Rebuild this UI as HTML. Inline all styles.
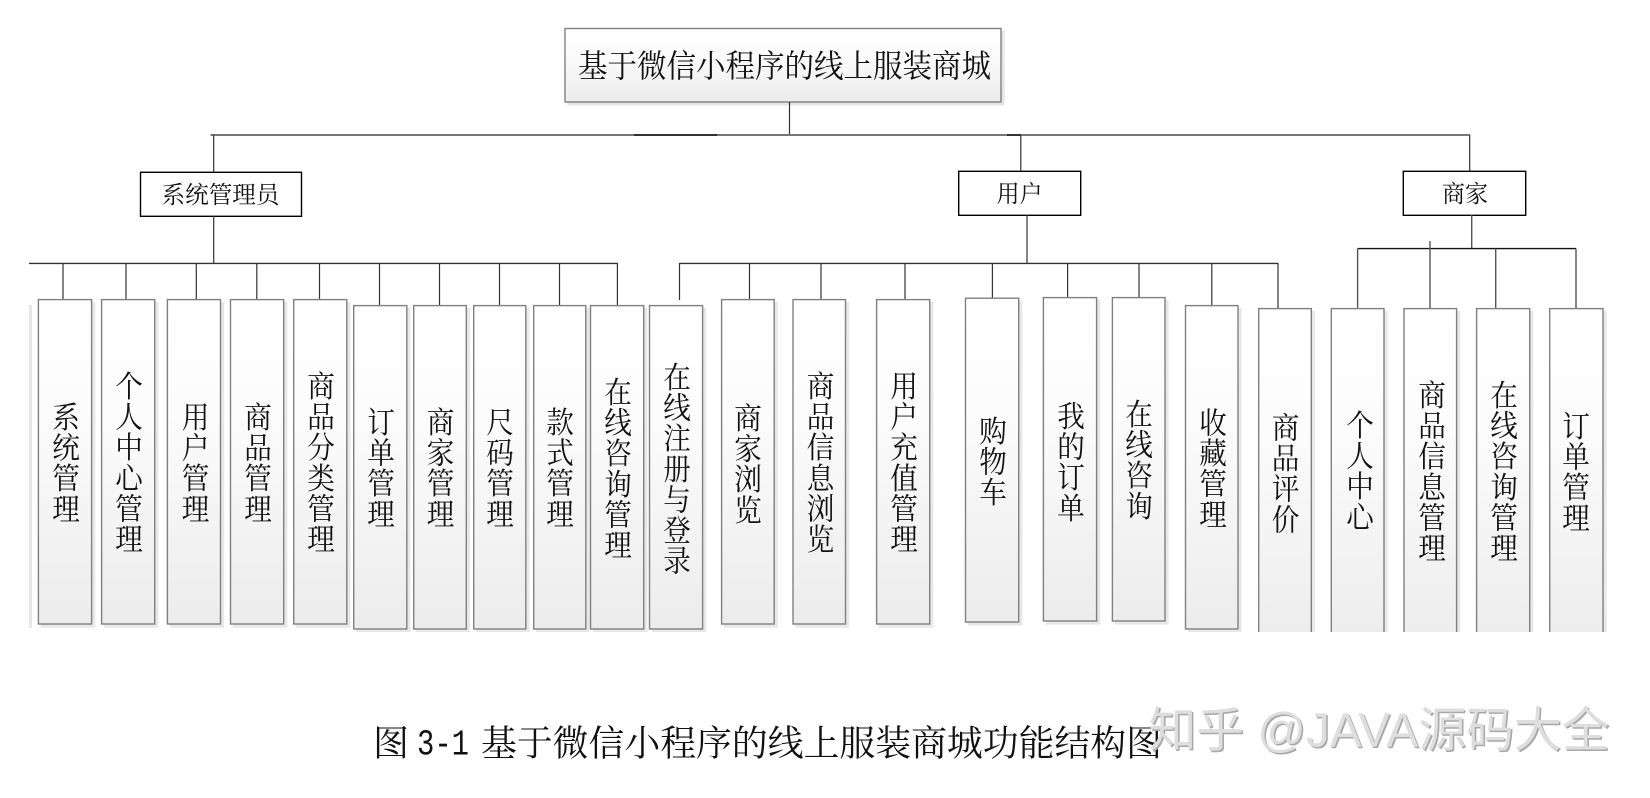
<!DOCTYPE html>
<html lang="zh"><head><meta charset="utf-8"><title>功能结构图</title>
<style>
html,body{margin:0;padding:0;background:#fff}
svg{display:block}
.b{fill:url(#g);stroke:#808080;stroke-width:1.4}
.n{fill:#fff;stroke:#000;stroke-width:1.4}
.l{stroke:#333;stroke-width:1.2;fill:none}
.h{stroke:#555;stroke-width:1.4;fill:none}
text{font-family:"Liberation Serif","Noto Serif CJK SC",serif;fill:#111}
.v{font-size:30px;text-anchor:middle}
</style></head><body>
<svg width="1650" height="798" viewBox="0 0 1650 798" xmlns="http://www.w3.org/2000/svg">
<defs>
<linearGradient id="g" x1="0" y1="0" x2="0" y2="1"><stop offset="0" stop-color="#fff"/><stop offset=".35" stop-color="#fcfcfc"/><stop offset="1" stop-color="#ececec"/></linearGradient>
<clipPath id="c"><rect x="0" y="0" width="1650" height="632"/></clipPath>
</defs>

<!-- root -->
<rect x="565" y="28.5" width="436" height="73.5" class="b" style="filter:drop-shadow(3px 3px 0 #e6e6e6)"/>
<text x="578" y="77" font-size="32" textLength="413" lengthAdjust="spacingAndGlyphs">基于微信小程序的线上服装商城</text>

<!-- top connectors -->
<path class="l" d="M789.5 102V135"/>
<path d="M210.5 135H1470" stroke="#777" stroke-width="2" fill="none"/>
<path d="M634 135H717M1007 135H1021" stroke="#333" stroke-width="2" fill="none"/>
<path class="l" d="M213.7 135V172M1020.8 135V171M1469.7 135V171"/>

<!-- role nodes -->
<rect class="n" x="140.5" y="172.3" width="161" height="44"/>
<rect class="n" x="958.7" y="171.3" width="122" height="44"/>
<rect class="n" x="1403.3" y="171.3" width="122.4" height="44"/>
<text x="161.5" y="203" font-size="24" textLength="118" lengthAdjust="spacingAndGlyphs">系统管理员</text>
<text x="996.5" y="202" font-size="24" textLength="46" lengthAdjust="spacingAndGlyphs">用户</text>
<text x="1442" y="202" font-size="24" textLength="46" lengthAdjust="spacingAndGlyphs">商家</text>

<!-- second level connectors -->
<path class="l" d="M213.7 216V263M1027 215V263"/>
<path class="h" d="M1471.7 215V248"/>
<path d="M29 263.4H617.4M679.5 263.4H1278" stroke="#333" stroke-width="1.4" fill="none"/>
<path class="l" d="M63 263V299.5M126 263V299.5M196.3 263V299.5M256.8 263V299.5M319.5 263V299.5M379.5 263V305.5M439.5 263V305.5M499.5 263V305.5M559.5 263V305.5M617.4 263V305.5M679.5 263V300M749.5 263V299.5M821 263V299.5M905 263V299.5M992.4 263V298M1067.6 263V297.5M1139 263V297.5M1211.8 263V305.5M1278 263V308.5"/>
<path d="M1357.6 248.6H1576" stroke="#111" stroke-width="1.4" fill="none"/>
<path class="h" d="M1357.6 248.6V308.5M1430 241V308.5M1495.7 248.6V308.5M1576 248.6V308.5"/>

<!-- leaf boxes -->
<rect x="29" y="305" width="3" height="323" fill="#e6e6e6"/>
<g clip-path="url(#c)"><g style="filter:drop-shadow(3px 3px 0 #e8e8e8)">
<rect class="b" x="38.4" y="299.6" width="53.2" height="324.4"/>
<rect class="b" x="101.6" y="299.6" width="53.1" height="324.4"/>
<rect class="b" x="167.4" y="299.6" width="53.1" height="324.4"/>
<rect class="b" x="230.5" y="299.6" width="53.2" height="324.4"/>
<rect class="b" x="293.7" y="299.6" width="53.1" height="324.4"/>
<rect class="b" x="353.7" y="305.6" width="53.1" height="323.4"/>
<rect class="b" x="413.7" y="305.6" width="52.6" height="323.4"/>
<rect class="b" x="473.7" y="305.6" width="52.1" height="323.4"/>
<rect class="b" x="533.7" y="305.6" width="52.1" height="323.4"/>
<rect class="b" x="590.5" y="305.6" width="53.2" height="323.4"/>
<rect class="b" x="649.5" y="305.6" width="53.1" height="323.4"/>
<rect class="b" x="721.6" y="299.6" width="52.6" height="324.4"/>
<rect class="b" x="793" y="299.6" width="52.5" height="324.4"/>
<rect class="b" x="876.6" y="299.6" width="53.1" height="324.4"/>
<rect class="b" x="965.5" y="298.2" width="53.2" height="323.8"/>
<rect class="b" x="1043.4" y="297.6" width="53.2" height="323.4"/>
<rect class="b" x="1112.4" y="297.6" width="52.6" height="323.4"/>
<rect class="b" x="1185.5" y="305.6" width="52.5" height="323.4"/>
<rect class="b" x="1258.7" y="308.6" width="52.6" height="340"/>
<rect class="b" x="1331.3" y="308.6" width="52.7" height="340"/>
<rect class="b" x="1404" y="308.6" width="52.6" height="340"/>
<rect class="b" x="1476.6" y="308.6" width="53.1" height="340"/>
<rect class="b" x="1549.7" y="308.6" width="53.3" height="340"/>
</g></g>

<!-- leaf labels -->
<text class="v" transform="translate(66,0) scale(.92,1)" x="0 0 0 0" y="428 458.6 489.2 519.8">系统管理</text>
<text class="v" transform="translate(129,0) scale(.92,1)" x="0 0 0 0 0 0" y="397 427.6 458.2 488.8 519.4 550">个人中心管理</text>
<text class="v" transform="translate(195.5,0) scale(.92,1)" x="0 0 0 0" y="428 458.6 489.2 519.8">用户管理</text>
<text class="v" transform="translate(258,0) scale(.92,1)" x="0 0 0 0" y="428 458.6 489.2 519.8">商品管理</text>
<text class="v" transform="translate(321,0) scale(.92,1)" x="0 0 0 0 0 0" y="397 427.6 458.2 488.8 519.4 550">商品分类管理</text>
<text class="v" transform="translate(381,0) scale(.92,1)" x="0 0 0 0" y="433 463.6 494.2 524.8">订单管理</text>
<text class="v" transform="translate(440.5,0) scale(.92,1)" x="0 0 0 0" y="433 463.6 494.2 524.8">商家管理</text>
<text class="v" transform="translate(500,0) scale(.92,1)" x="0 0 0 0" y="433 463.6 494.2 524.8">尺码管理</text>
<text class="v" transform="translate(560,0) scale(.92,1)" x="0 0 0 0" y="433 463.6 494.2 524.8">款式管理</text>
<text class="v" transform="translate(618,0) scale(.92,1)" x="0 0 0 0 0 0" y="403 433.6 464.2 494.8 525.4 556">在线咨询管理</text>
<text class="v" transform="translate(677,0) scale(.92,1)" x="0 0 0 0 0 0 0" y="388 418.6 449.2 479.8 510.4 541 571.6">在线注册与登录</text>
<text class="v" transform="translate(748,0) scale(.92,1)" x="0 0 0 0" y="429 459.6 490.2 520.8">商家浏览</text>
<text class="v" transform="translate(820.5,0) scale(.92,1)" x="0 0 0 0 0 0" y="397 427.6 458.2 488.8 519.4 550">商品信息浏览</text>
<text class="v" transform="translate(904,0) scale(.92,1)" x="0 0 0 0 0 0" y="397 427.6 458.2 488.8 519.4 550">用户充值管理</text>
<text class="v" transform="translate(993,0) scale(.92,1)" x="0 0 0 0" y="442 472.6 503.2">购物车</text>
<text class="v" transform="translate(1071,0) scale(.92,1)" x="0 0 0 0" y="427 457.6 488.2 518.8">我的订单</text>
<text class="v" transform="translate(1139,0) scale(.92,1)" x="0 0 0 0" y="425 455.6 486.2 516.8">在线咨询</text>
<text class="v" transform="translate(1213,0) scale(.92,1)" x="0 0 0 0" y="433.5 464.1 494.7 525.3">收藏管理</text>
<text class="v" transform="translate(1285.5,0) scale(.92,1)" x="0 0 0 0" y="438.5 469.1 499.7 530.3">商品评价</text>
<text class="v" transform="translate(1360,0) scale(.92,1)" x="0 0 0 0" y="436 466.6 497.2 527.8">个人中心</text>
<text class="v" transform="translate(1432,0) scale(.92,1)" x="0 0 0 0 0 0" y="406 436.6 467.2 497.8 528.4 559">商品信息管理</text>
<text class="v" transform="translate(1504,0) scale(.92,1)" x="0 0 0 0 0 0" y="406 436.6 467.2 497.8 528.4 559">在线咨询管理</text>
<text class="v" transform="translate(1576,0) scale(.92,1)" x="0 0 0 0" y="437 467.6 498.2 528.8">订单管理</text>

<!-- caption -->
<text x="373" y="755.5" font-size="36" textLength="36" lengthAdjust="spacingAndGlyphs">图</text>
<text x="417" y="754.5" font-size="36" textLength="52" lengthAdjust="spacingAndGlyphs" style="font-family:'Liberation Mono',monospace">3-1</text>
<text x="481" y="755.5" font-size="36" textLength="681" lengthAdjust="spacingAndGlyphs">基于微信小程序的线上服装商城功能结构图</text>

<!-- watermark -->
<text x="1150" y="748" font-size="48" textLength="461" lengthAdjust="spacingAndGlyphs" style="font-family:'Liberation Sans','Noto Sans CJK SC',sans-serif;fill:#a8a8a8">知乎 @JAVA源码大全</text>
<text x="1148.5" y="746.5" font-size="48" textLength="461" lengthAdjust="spacingAndGlyphs" style="font-family:'Liberation Sans','Noto Sans CJK SC',sans-serif;fill:#dedede">知乎 @JAVA源码大全</text>
</svg>
</body></html>
